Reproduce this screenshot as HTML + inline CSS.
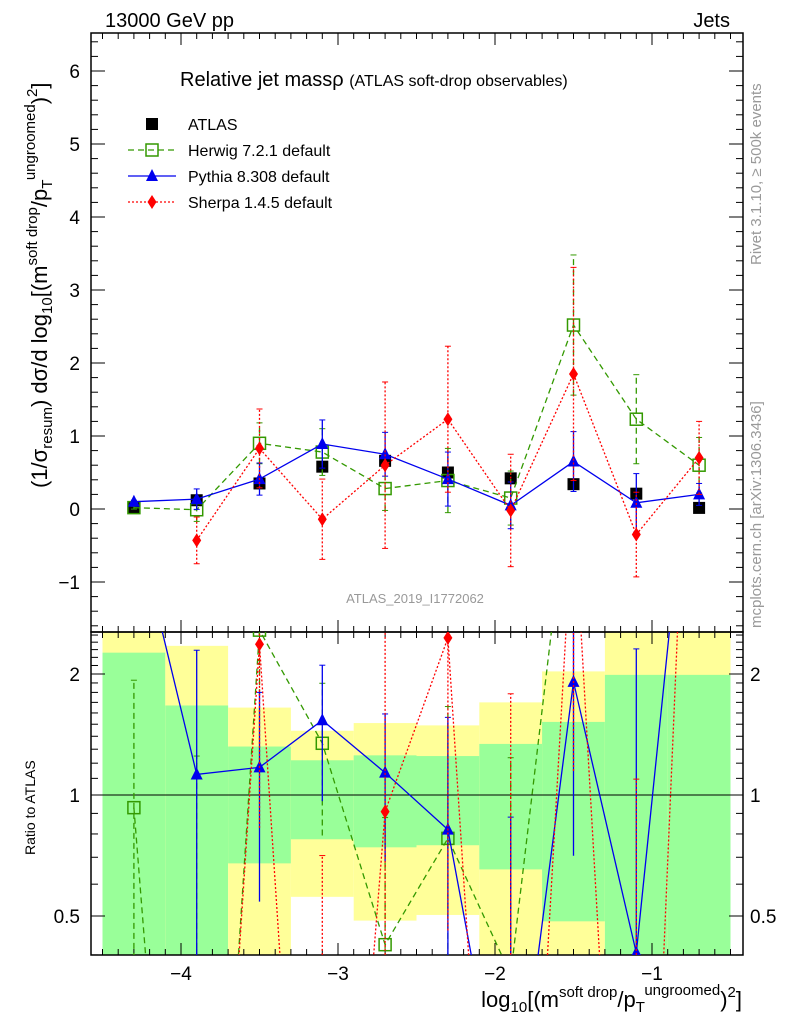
<!DOCTYPE html>
<html><head><meta charset="utf-8"><style>
html,body{margin:0;padding:0;background:#fff;overflow:hidden;width:786px;height:1024px}
svg{display:block;font-family:"Liberation Sans",Arial,sans-serif}
</style></head><body>
<svg id="c" width="786" height="1024" viewBox="0 0 786 1024">
<defs>
<clipPath id="clipTop"><rect x="91" y="33" width="652" height="599"/></clipPath>
<clipPath id="clipRat"><rect x="91" y="632" width="652" height="323"/></clipPath>
</defs>
<g id="bands" clip-path="url(#clipRat)"></g>
<g id="axes"></g>
<g id="marks"></g>
<text x="105" y="27" font-size="20">13000 GeV pp</text>
<text x="730" y="27" font-size="20" text-anchor="end">Jets</text>
<text x="180" y="86" font-size="20">Relative jet massρ <tspan font-size="16">(ATLAS soft-drop observables)</tspan></text>
<text x="415" y="603" font-size="13" fill="#999" text-anchor="middle">ATLAS_2019_I1772062</text>
<text transform="translate(761,265) rotate(-90)" font-size="15" fill="#999">Rivet 3.1.10, ≥ 500k events</text>
<text transform="translate(761,628) rotate(-90)" font-size="15" fill="#999">mcplots.cern.ch [arXiv:1306.3436]</text>
<text transform="translate(47,488) rotate(-90)" font-size="22">(1/σ<tspan font-size="15" dy="5">resum</tspan><tspan dy="-5">) dσ/d log</tspan><tspan font-size="15" dy="5">10</tspan><tspan dy="-5">[(m</tspan><tspan font-size="15" dy="-10">soft drop</tspan><tspan dy="10">/p</tspan><tspan font-size="15" dy="5">T</tspan><tspan font-size="15" dy="-17">ungroomed</tspan><tspan dy="12">)</tspan><tspan font-size="15" dy="-10">2</tspan><tspan dy="10">]</tspan></text>
<text transform="translate(35,855) rotate(-90)" font-size="14">Ratio to ATLAS</text>
<text x="742" y="1007" font-size="22" text-anchor="end">log<tspan font-size="15" dy="5">10</tspan><tspan dy="-5">[(m</tspan><tspan font-size="15" dy="-10">soft drop</tspan><tspan dy="10">/p</tspan><tspan font-size="15" dy="5">T</tspan><tspan font-size="15" dy="-17">ungroomed</tspan><tspan dy="12">)</tspan><tspan font-size="15" dy="-10">2</tspan><tspan dy="10">]</tspan></text>
<g id="legend"></g>
</svg>
<script>
// data
const binCenters=[-4.3,-3.9,-3.5,-3.1,-2.7,-2.3,-1.9,-1.5,-1.1,-0.7];
const binEdges=[-4.5,-4.1,-3.7,-3.3,-2.9,-2.5,-2.1,-1.7,-1.3,-0.9,-0.5];
const atlasVals=[0.02,0.12,0.35,0.58,0.66,0.5,0.42,0.34,0.21,0.015];
const atlasErrs=[0.03,0.05,0.05,0.06,0.06,0.08,0.06,0.05,0.05,0.03];
const herwigVals=[0.0186,-0.01,0.9,0.78,0.28,0.39,0.15,2.52,1.23,0.6];
const herwigErrs=[0.02,0.16,0.28,0.32,0.3,0.44,0.37,0.96,0.61,0.38];
const pythiaVals=[0.1,0.135,0.41,0.89,0.75,0.41,0.05,0.65,0.085,0.2];
const pythiaErrs=[0.02,0.14,0.22,0.33,0.3,0.37,0.32,0.41,0.4,0.15];
const sherpaVals=[null,-0.43,0.83,-0.14,0.6,1.23,-0.02,1.85,-0.35,0.7];
const sherpaErrs=[null,0.32,0.54,0.55,1.14,1.0,0.77,1.46,0.58,0.5];
const bandGreenHi=[2.26,1.67,1.32,1.22,1.255,1.25,1.34,1.52,1.99,1.99];
const bandGreenLo=[0.3,0.3,0.676,0.776,0.741,0.75,0.653,0.485,0.3,0.3];
const bandYellowHi=[3,2.35,1.65,1.445,1.51,1.49,1.70,2.03,3,3];
const bandYellowLo=[0.3,0.3,0.3,0.558,0.487,0.503,0.3,0.3,0.3,0.3];
const yTicksTop=[-1,0,1,2,3,4,5,6];
const xTicks=[-4,-3,-2,-1];
const ratioTicks=[0.5,1,2];

const NS="http://www.w3.org/2000/svg";
const X=v=>809+157*v;
const Y=v=>509-73*v;
const R=r=>795-121*Math.log2(Math.max(r,0.01));
function mk(p,tag,at){const e=document.createElementNS(NS,tag);for(const k in at)e.setAttribute(k,at[k]);p.appendChild(e);return e;}
const bands=document.getElementById('bands'),axes=document.getElementById('axes'),marks=document.getElementById('marks'),legend=document.getElementById('legend');

// bands
for(let i=0;i<binCenters.length;i++){
  const x0=X(binEdges[i]),x1=X(binEdges[i+1]);
  const y=mk(bands,'rect',{x:x0,y:R(bandYellowHi[i]),width:x1-x0,height:R(bandYellowLo[i])-R(bandYellowHi[i]),fill:'#ffff99'});
  
  
  const g=mk(bands,'rect',{x:x0,y:R(bandGreenHi[i]),width:x1-x0,height:R(bandGreenLo[i])-R(bandGreenHi[i]),fill:'#99ff99'});
  
  
}
mk(bands,'line',{x1:91,x2:743,y1:R(1),y2:R(1),stroke:'#000','stroke-width':1});

// frames
mk(axes,'rect',{x:91,y:33,width:652,height:599,fill:'none',stroke:'#000','stroke-width':1.5});
mk(axes,'rect',{x:91,y:632,width:652,height:323,fill:'none',stroke:'#000','stroke-width':1.5});
// x ticks
for(let v=-4.5;v<=-0.45;v+=0.1){
  const vv=Math.round(v*10)/10, maj=Math.abs(vv-Math.round(vv))<1e-6, L=maj?12:6;
  [[33,1],[632,1],[632,-1],[955,-1]].forEach(([yy,d])=>mk(axes,'line',{x1:X(vv),x2:X(vv),y1:yy,y2:yy+d*L,stroke:'#000'}));
}
xTicks.forEach(v=>{const t=mk(axes,'text',{x:X(v),y:980,'font-size':19,'text-anchor':'middle'});t.textContent=(v<0?'−':'')+Math.abs(v);

});
// y ticks top
for(let v=-1.6;v<=6.5;v+=0.2){
  const vv=Math.round(v*10)/10, maj=Math.abs(vv-Math.round(vv))<1e-6, L=maj?14:7;
  mk(axes,'line',{x1:91,x2:91+L,y1:Y(vv),y2:Y(vv),stroke:'#000'});
  mk(axes,'line',{x1:743,x2:743-L,y1:Y(vv),y2:Y(vv),stroke:'#000'});
}
yTicksTop.forEach(v=>{const t=mk(axes,'text',{x:80,y:Y(v)+7,'font-size':19,'text-anchor':'end'});t.textContent=(v<0?'−':'')+Math.abs(v);

});
// ratio ticks
[0.4,0.5,0.6,0.7,0.8,0.9,1,1.1,1.2,1.3,1.4,1.5,1.6,1.7,1.8,1.9,2,2.1,2.2,2.3,2.4,2.5].forEach(r=>{
  const maj=ratioTicks.includes(r),L=maj?14:7;
  mk(axes,'line',{x1:91,x2:91+L,y1:R(r),y2:R(r),stroke:'#000'});
  mk(axes,'line',{x1:743,x2:743-L,y1:R(r),y2:R(r),stroke:'#000'});
});
ratioTicks.forEach(r=>{
  const a=mk(axes,'text',{x:80,y:R(r)+7,'font-size':19,'text-anchor':'end'});a.textContent=r;
  
  
  const b=mk(axes,'text',{x:750,y:R(r)+7,'font-size':19});b.textContent=r;
  
  
});

function marker(p,type,x,y,col){
  if(type==='sq')return mk(p,'rect',{x:x-6,y:y-6,width:12,height:12,fill:'#000'});
  if(type==='osq')return mk(p,'rect',{x:x-6,y:y-6,width:12,height:12,fill:'#fff','fill-opacity':0.01,stroke:col,'stroke-width':1.5});
  if(type==='tri')return mk(p,'polygon',{points:`${x},${y-7} ${x-6},${y+5} ${x+6},${y+5}`,fill:col});
  if(type==='dia')return mk(p,'polygon',{points:`${x},${y-7} ${x-4.5},${y} ${x},${y+7} ${x+4.5},${y}`,fill:col});
}
const series=[
 {name:'herwig',vals:herwigVals,errs:herwigErrs,col:'#339900',dash:'6,4',m:'osq'},
 {name:'pythia',vals:pythiaVals,errs:pythiaErrs,col:'#0000ee',dash:'',m:'tri'},
 {name:'sherpa',vals:sherpaVals,errs:sherpaErrs,col:'#ff0000',dash:'2,2',m:'dia'}];
const gTop=mk(marks,'g',{'clip-path':'url(#clipTop)'});
const gRat=mk(marks,'g',{'clip-path':'url(#clipRat)'});
// atlas
binCenters.forEach((c,i)=>{
  mk(gTop,'line',{x1:X(c),x2:X(c),y1:Y(atlasVals[i]-atlasErrs[i]),y2:Y(atlasVals[i]+atlasErrs[i]),stroke:'#000','stroke-width':1.5});
  const m=marker(gTop,'sq',X(c),Y(atlasVals[i]));
  
  
});
series.forEach(s=>{
  let ptsT=[],ptsR=[];
  binCenters.forEach((c,i)=>{
    const v=s.vals[i]; if(v===null)return;
    ptsT.push(X(c)+','+Y(v)); ptsR.push(X(c)+','+R(v/atlasVals[i]));
  });
  const l1=mk(gTop,'polyline',{points:ptsT.join(' '),fill:'none',stroke:s.col,'stroke-width':1.3,'stroke-dasharray':s.dash});
  
  
  const l2=mk(gRat,'polyline',{points:ptsR.join(' '),fill:'none',stroke:s.col,'stroke-width':1.3,'stroke-dasharray':s.dash});
  
  
  binCenters.forEach((c,i)=>{
    const v=s.vals[i],e=s.errs[i]; if(v===null)return;
    const x=X(c);
    mk(gTop,'line',{x1:x,x2:x,y1:Y(v-e),y2:Y(v+e),stroke:s.col,'stroke-width':1.3,'stroke-dasharray':s.dash});
    mk(gTop,'line',{x1:x-3,x2:x+3,y1:Y(v-e),y2:Y(v-e),stroke:s.col});
    mk(gTop,'line',{x1:x-3,x2:x+3,y1:Y(v+e),y2:Y(v+e),stroke:s.col});
    const m=marker(gTop,s.m,x,Y(v),s.col);
    
    
    const a=atlasVals[i],r=v/a,re=e/a;
    mk(gRat,'line',{x1:x,x2:x,y1:R(r-re),y2:R(r+re),stroke:s.col,'stroke-width':1.3,'stroke-dasharray':s.dash});
    mk(gRat,'line',{x1:x-3,x2:x+3,y1:R(r+re),y2:R(r+re),stroke:s.col});
    const m2=marker(gRat,s.m,x,R(r),s.col);
    
    
  });
});
// legend
const legItems=[['sq','#000','','ATLAS'],['osq','#339900','6,4','Herwig 7.2.1 default'],['tri','#0000ee','','Pythia 8.308 default'],['dia','#ff0000','2,2','Sherpa 1.4.5 default']];
legItems.forEach((it,i)=>{
  const y=124+i*26;
  const g=mk(legend,'g',{});
  
  
  if(i>0)mk(g,'line',{x1:128,x2:176,y1:y,y2:y,stroke:it[1],'stroke-width':1.3,'stroke-dasharray':it[2]});
  marker(g,it[0],152,y,it[1]);
  const t=mk(g,'text',{x:188,y:y+6,'font-size':16});t.textContent=it[3];
});
</script>
</body></html>
